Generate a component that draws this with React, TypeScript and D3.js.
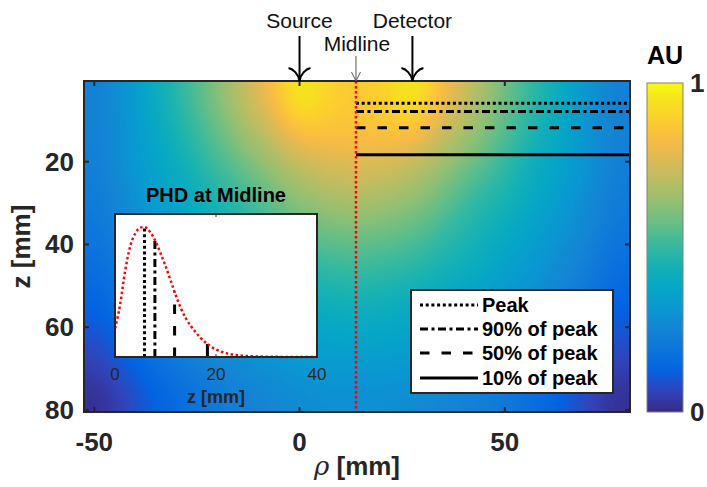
import React, { useMemo } from "react";
import * as d3 from "d3";

// ---------- data ----------
// PHD heat-map samples (AU), rows = depth z [mm], columns = rho [mm]
const rhoCenters = [-49, -42, -35, -28, -21, -14, -7, 0, 7, 14, 21, 28, 35, 42, 49, 56, 63, 70, 77];
const zCenters = [4.5, 12.5, 20.5, 28.5, 36.5, 44.5, 52.5, 60.5, 68.5, 76.5];
const phdGrid = [
  [0.24, 0.31, 0.41, 0.50, 0.60, 0.71, 0.82, 0.97, 0.90, 0.87, 0.90, 0.97, 0.82, 0.71, 0.60, 0.50, 0.41, 0.31, 0.24],
  [0.24, 0.30, 0.39, 0.47, 0.56, 0.65, 0.74, 0.85, 0.85, 0.85, 0.85, 0.85, 0.74, 0.65, 0.56, 0.47, 0.39, 0.30, 0.24],
  [0.23, 0.30, 0.37, 0.43, 0.51, 0.58, 0.65, 0.72, 0.76, 0.77, 0.76, 0.72, 0.65, 0.58, 0.51, 0.43, 0.37, 0.30, 0.23],
  [0.22, 0.28, 0.34, 0.40, 0.46, 0.51, 0.58, 0.64, 0.67, 0.69, 0.67, 0.64, 0.58, 0.51, 0.46, 0.40, 0.34, 0.28, 0.22],
  [0.20, 0.26, 0.31, 0.36, 0.41, 0.46, 0.51, 0.56, 0.59, 0.60, 0.59, 0.56, 0.51, 0.46, 0.41, 0.36, 0.31, 0.26, 0.20],
  [0.17, 0.23, 0.28, 0.33, 0.37, 0.42, 0.45, 0.49, 0.51, 0.52, 0.51, 0.49, 0.45, 0.42, 0.37, 0.33, 0.28, 0.23, 0.17],
  [0.14, 0.20, 0.25, 0.29, 0.33, 0.36, 0.39, 0.42, 0.44, 0.45, 0.44, 0.42, 0.39, 0.36, 0.33, 0.29, 0.25, 0.20, 0.14],
  [0.10, 0.16, 0.21, 0.26, 0.29, 0.32, 0.35, 0.37, 0.38, 0.39, 0.38, 0.37, 0.35, 0.32, 0.29, 0.26, 0.21, 0.16, 0.10],
  [0.06, 0.12, 0.17, 0.22, 0.25, 0.28, 0.30, 0.32, 0.33, 0.33, 0.33, 0.32, 0.30, 0.28, 0.25, 0.22, 0.17, 0.12, 0.06],
  [0.02, 0.07, 0.13, 0.17, 0.21, 0.24, 0.26, 0.28, 0.29, 0.29, 0.29, 0.28, 0.26, 0.24, 0.21, 0.17, 0.13, 0.07, 0.02],
];

const rhoExtent = [-52.5, 80.5];
const zExtent = [0.5, 80.5];
const rhoTicks = [-50, 0, 50];
const zTicks = [20, 40, 60, 80];
const colorTicks = [0, 1];

const sourceRho = 0;
const detectorRho = 27.5;
const midlineRho = 13.75;

// PHD along the midline (normalised)
const midlineZ = [0, 1, 2, 3, 4, 5, 5.8, 7, 7.9, 9, 10, 11, 11.8, 13, 14, 15, 16, 17, 18.3, 19, 20, 22, 24, 26, 28, 30, 35, 40];
const midlinePHD = [0.22, 0.40, 0.66, 0.85, 0.95, 0.995, 1.0, 0.96, 0.90, 0.80, 0.70, 0.59, 0.50, 0.38, 0.30, 0.24, 0.19, 0.145, 0.10, 0.08, 0.058, 0.03, 0.015, 0.008, 0.004, 0.002, 0.0005, 0];
const insetTicks = [0, 20, 40];

const levelNames = ["Peak", "90% of peak", "50% of peak", "10% of peak"];
const levelFractions = [1, 0.9, 0.5, 0.1];
const levelDepths = [5.85, 7.9, 11.8, 18.3];

// ---------- styles ----------
const levelDash = ["3,2.7", "8,3.5,3,3.5", "9.5,12", "none"];
const parulaIdx = [0, 4, 8, 12, 16, 20, 24, 28, 32, 36, 40, 44, 48, 52, 56, 60, 63];
const parulaRGB = [
  [0.2081, 0.1663, 0.5292], [0.1959, 0.2645, 0.7279], [0.0117, 0.3875, 0.882], [0.0498, 0.4586, 0.8641],
  [0.0793, 0.52, 0.8312], [0.0343, 0.5966, 0.8199], [0.0228, 0.6535, 0.7768], [0.0843, 0.6928, 0.7062],
  [0.2178, 0.725, 0.6193], [0.3953, 0.7459, 0.5244], [0.5709, 0.7485, 0.4494], [0.7184, 0.7411, 0.3905],
  [0.8507, 0.7299, 0.336], [0.9739, 0.7314, 0.2666], [0.988, 0.8066, 0.1794], [0.9589, 0.8949, 0.1132],
  [0.9763, 0.9831, 0.0538],
];

const FONT = "'Liberation Sans', Arial, Helvetica, sans-serif";
const AX = "#262626";

export default function App() {
  const W = 707, H = 487;
  const x = d3.scaleLinear().domain(rhoExtent).range([84, 630]);
  const y = d3.scaleLinear().domain(zExtent).range([81, 412]);
  const color = d3
    .scaleLinear<string>()
    .domain(parulaIdx.map((i) => i / 63))
    .range(parulaRGB.map((c) => d3.rgb(c[0] * 255, c[1] * 255, c[2] * 255).formatHex()))
    .interpolate(d3.interpolateRgb)
    .clamp(true);

  const cb = { x0: 647, x1: 683 };
  const cy = d3.scaleLinear().domain([0, 1]).range([412, 83]);

  const ix = d3.scaleLinear().domain([0, 40]).range([115, 317]);
  const iy = d3.scaleLinear().domain([0, 1.1]).range([357, 214]);

  const px0 = x(rhoExtent[0]), px1 = x(rhoExtent[1]);
  const py0 = y(zExtent[0]), py1 = y(zExtent[1]);
  const imgW = Math.round(px1 - px0), imgH = Math.round(py1 - py0);

  const href = useMemo(() => {
    if (typeof document === "undefined") return "";
    const nx = rhoCenters.length, nz = zCenters.length;
    // small grey image with one replicated border cell on every side
    const sw = nx + 2, sh = nz + 2;
    const small = document.createElement("canvas");
    small.width = sw; small.height = sh;
    const sctx = small.getContext("2d")!;
    const sd = sctx.createImageData(sw, sh);
    for (let j = 0; j < sh; j++)
      for (let i = 0; i < sw; i++) {
        const jj = Math.min(nz - 1, Math.max(0, j - 1));
        const ii = Math.min(nx - 1, Math.max(0, i - 1));
        const k = (j * sw + i) * 4;
        const g = Math.round(phdGrid[jj][ii] * 255);
        sd.data[k] = g; sd.data[k + 1] = g; sd.data[k + 2] = g; sd.data[k + 3] = 255;
      }
    sctx.putImageData(sd, 0, 0);
    const cw = imgW / nx, ch = imgH / nz;
    const P = Math.ceil(Math.max(cw, ch)) + 2;
    const pad = document.createElement("canvas");
    pad.width = imgW + 2 * P; pad.height = imgH + 2 * P;
    const pctx = pad.getContext("2d")!;
    pctx.imageSmoothingEnabled = true;
    (pctx as any).imageSmoothingQuality = "high";
    pctx.drawImage(small, P - cw, P - ch, imgW + 2 * cw, imgH + 2 * ch);
    const big = document.createElement("canvas");
    big.width = imgW; big.height = imgH;
    const ctx = big.getContext("2d")!;
    (ctx as any).filter = "blur(8px)";
    ctx.drawImage(pad, -P, -P);
    (ctx as any).filter = "none";
    const bd = ctx.getImageData(0, 0, imgW, imgH);
    const lut = d3.range(256).map((v) => d3.rgb(color(v / 255)));
    for (let k = 0; k < bd.data.length; k += 4) {
      const c = lut[bd.data[k]];
      bd.data[k] = c.r; bd.data[k + 1] = c.g; bd.data[k + 2] = c.b; bd.data[k + 3] = 255;
    }
    ctx.putImageData(bd, 0, 0);
    return big.toDataURL();
  }, []);

  const curve = d3
    .line<number>()
    .x((_, i) => ix(midlineZ[i]))
    .y((d) => iy(d))
    .curve(d3.curveMonotoneX)(midlinePHD) as string;

  const arrowHead = (cx: number, tip: number, w: number, h: number) =>
    `M${cx - w},${tip - h} C${cx - w * 0.55},${tip - h + 1} ${cx - 1},${tip - h * 0.5} ${cx},${tip}` +
    ` M${cx + w},${tip - h} C${cx + w * 0.55},${tip - h + 1} ${cx + 1},${tip - h * 0.5} ${cx},${tip}`;

  const legendRowY = [305, 329, 353, 378];

  return (
    <svg width={W} height={H} style={{ position: "absolute", left: 0, top: 0, background: "#fff" }} fontFamily={FONT}>
      <defs>
        <linearGradient id="cbgrad" x1="0" y1="1" x2="0" y2="0">
          {d3.range(0, 1.0001, 0.02).map((t) => (
            <stop key={t} offset={t} stopColor={color(t)} />
          ))}
        </linearGradient>
      </defs>

      {/* heat map */}
      <image href={href} x={px0} y={py0} width={px1 - px0} height={py1 - py0} preserveAspectRatio="none" />

      {/* level lines */}
      {levelDepths.map((d, i) => (
        <line key={i} x1={x(midlineRho)} x2={px1 - 1} y1={y(d)} y2={y(d)} stroke="#000" strokeWidth={3}
          strokeDasharray={levelDash[i]} />
      ))}

      {/* midline */}
      <line x1={x(midlineRho)} x2={x(midlineRho)} y1={py0} y2={py1} stroke="#ff0000" strokeWidth={2.5} strokeDasharray="2.5,2.5" />

      {/* frame + ticks */}
      <rect x={px0} y={py0} width={px1 - px0} height={py1 - py0} fill="none" stroke={AX} strokeWidth={2} />
      {rhoTicks.map((t) => (
        <g key={t}>
          <line x1={x(t)} x2={x(t)} y1={py1} y2={py1 - 5} stroke={AX} strokeWidth={2} />
          <line x1={x(t)} x2={x(t)} y1={py0} y2={py0 + 5} stroke={AX} strokeWidth={2} />
          <text x={x(t)} y={451} textAnchor="middle" fontSize={26} fontWeight="bold" fill={AX}>{t}</text>
        </g>
      ))}
      {zTicks.map((t) => (
        <g key={t}>
          <line x1={px0} x2={px0 + 5} y1={y(t)} y2={y(t)} stroke={AX} strokeWidth={2} />
          <line x1={px1} x2={px1 - 5} y1={y(t)} y2={y(t)} stroke={AX} strokeWidth={2} />
          <text x={74} y={y(t) + 9} textAnchor="end" fontSize={26} fontWeight="bold" fill={AX}>{t}</text>
        </g>
      ))}
      <text transform={`translate(30,${(py0 + py1) / 2}) rotate(-90)`} textAnchor="middle" fontSize={26} fontWeight="bold" fill={AX}>
        z [mm]
      </text>
      <text x={(px0 + px1) / 2} y={475} textAnchor="middle" fontSize={26} fill={AX}>
        <tspan fontStyle="italic" fontFamily="'DejaVu Serif', serif">ρ</tspan>
        <tspan fontWeight="bold"> [mm]</tspan>
      </text>

      {/* inset */}
      <text x={(ix(0) + ix(40)) / 2} y={202} textAnchor="middle" fontSize={20} fontWeight="bold" fill="#000">PHD at Midline</text>
      <rect x={ix(0)} y={iy(1.1)} width={ix(40) - ix(0)} height={iy(0) - iy(1.1)} fill="#fff" />
      {levelDepths.map((d, i) => (
        <line key={i} x1={ix(d)} x2={ix(d)} y1={iy(0)} y2={iy(levelFractions[i])} stroke="#000" strokeWidth={3}
          strokeDasharray={levelDash[i]} />
      ))}
      <path d={curve} fill="none" stroke="#ff0000" strokeWidth={2.5} strokeDasharray="2.5,2.5" />
      <rect x={ix(0)} y={iy(1.1)} width={ix(40) - ix(0)} height={iy(0) - iy(1.1)} fill="none" stroke={AX} strokeWidth={2} />
      {insetTicks.map((t) => (
        <g key={t}>
          <line x1={ix(t)} x2={ix(t)} y1={iy(0)} y2={iy(0) - 3} stroke={AX} strokeWidth={1} />
          <line x1={ix(t)} x2={ix(t)} y1={iy(1.1)} y2={iy(1.1) + 3} stroke={AX} strokeWidth={1} />
          <text x={ix(t)} y={380} textAnchor="middle" fontSize={17} fill={AX}>{t}</text>
        </g>
      ))}
      <text x={(ix(0) + ix(40)) / 2} y={403} textAnchor="middle" fontSize={18} fontWeight="bold" fill={AX}>z [mm]</text>

      {/* legend */}
      <rect x={411} y={290} width={202} height={103} fill="#fff" stroke={AX} strokeWidth={2} />
      {levelNames.map((n, i) => (
        <g key={n}>
          <line x1={420} x2={478} y1={legendRowY[i]} y2={legendRowY[i]} stroke="#000" strokeWidth={3}
            strokeDasharray={levelDash[i]} />
          <text x={482} y={legendRowY[i] + 7} fontSize={20} fontWeight="bold" fill="#000">{n}</text>
        </g>
      ))}

      {/* colorbar */}
      <rect x={cb.x0} y={cy(1)} width={cb.x1 - cb.x0} height={cy(0) - cy(1)} fill="url(#cbgrad)" stroke="#808080" strokeWidth={1} />
      {colorTicks.map((t) => (
        <text key={t} x={690} y={cy(t) + 9} fontSize={26} fontWeight="bold" fill={AX}>{t}</text>
      ))}
      <text x={(cb.x0 + cb.x1) / 2} y={64} textAnchor="middle" fontSize={25} fontWeight="bold" fill="#000">AU</text>

      {/* annotations */}
      <line x1={x(sourceRho)} x2={x(sourceRho)} y1={36} y2={py0} stroke="#000" strokeWidth={2} />
      <path d={arrowHead(x(sourceRho), py0, 11, 13)} fill="none" stroke="#000" strokeWidth={2} />
      <text x={x(sourceRho)} y={28} textAnchor="middle" fontSize={21} fill="#111">Source</text>

      <line x1={x(detectorRho)} x2={x(detectorRho)} y1={36} y2={py0} stroke="#000" strokeWidth={2} />
      <path d={arrowHead(x(detectorRho), py0, 11, 13)} fill="none" stroke="#000" strokeWidth={2} />
      <text x={x(detectorRho)} y={28} textAnchor="middle" fontSize={21} fill="#111">Detector</text>

      <line x1={x(midlineRho)} x2={x(midlineRho)} y1={56} y2={py0} stroke="#555" strokeWidth={1} />
      <path d={`M${x(midlineRho) - 4.5},${py0 - 9} L${x(midlineRho)},${py0} L${x(midlineRho) + 4.5},${py0 - 9}`} fill="none" stroke="#555" strokeWidth={1} />
      <text x={x(midlineRho) + 1} y={51} textAnchor="middle" fontSize={21} fill="#111">Midline</text>
    </svg>
  );
}
